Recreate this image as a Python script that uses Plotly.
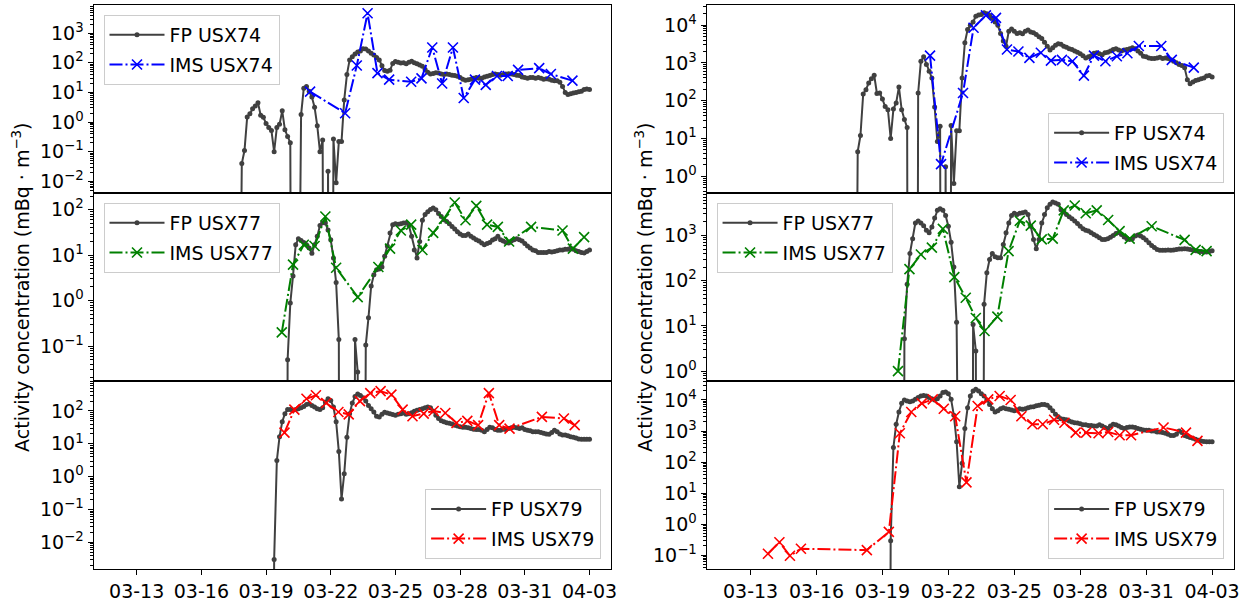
import pandas as pd
import plotly.graph_objects as go

# ---------------- data ----------------
FP_START = "2011-03-17 12:00"   # 3-hourly FLEXPART (FP) output

fp_usx74_left = [
    0, 0, 0, 0.04, 0.11, 1.5, 1.9, 2.8, 3.5, 4.5,
    1.7, 1.45, 0.9, 0.66, 0.52, 0.1, 0.66, 0.85, 2.4, 0.55,
    0.33, 0.2, 0, 0, 0, 1.8, 14, 16, 11, 7,
    3.2, 0.75, 0.1, 0.25, 0, 0.022, 0, 0.27, 0.009, 0.22,
    0.22, 5.6, 40, 125, 160, 200, 230, 250, 300, 290,
    250, 210, 185, 150, 125, 80, 55, 52, 56, 95,
    110, 105, 98, 100, 93, 105, 112, 100, 93, 85,
    76, 60, 48, 42, 44, 46, 45, 42, 40, 42,
    40, 38, 37, 35, 32, 28, 26, 27, 28, 30,
    32, 30, 30, 33, 35, 37, 40, 42, 40, 38,
    40, 42, 43, 42, 40, 38, 37, 33, 32, 30,
    32, 32, 30, 32, 30, 28, 29, 28, 26, 25,
    25, 22, 16, 10, 8.5, 9, 9.5, 10, 10.5, 11,
    12.5, 13, 12.5]

fp_usx74_right = [
    0, 0, 0, 4.5, 12, 150, 195, 295, 380, 470,
    155, 160, 110, 70, 58, 10, 60, 87, 230, 58,
    32, 19.5, 0, 0, 0, 160, 1100, 1450, 910, 600,
    400, 68, 8.3, 21, 0, 1.8, 0, 22, 0.65, 16,
    16, 400, 3400, 7600, 9800, 12000, 17000, 18500, 19000, 21000,
    20000, 18000, 15000, 12000, 9800, 6000, 3800, 2750, 6900, 7900,
    6900, 6000, 6300, 5900, 6900, 7400, 6500, 6300, 5600, 4900,
    4400, 3500, 2750, 2200, 2500, 2900, 3200, 3100, 2750, 2600,
    2350, 2250, 2050, 1900, 1750, 1550, 1350, 1450, 1550, 1800,
    1850, 1750, 1650, 1850, 1900, 2050, 2250, 2350, 2200, 2050,
    2200, 2250, 2350, 2500, 2350, 2050, 1800, 1500, 1450, 1350,
    1300, 1300, 1350, 1400, 1300, 1350, 1300, 1200, 1100, 1000,
    910, 850, 740, 360, 280, 310, 340, 360, 380, 400,
    450, 460, 420]

fp_usx77_left = [
    0, 0, 0, 0, 0, 0, 0, 0, 0, 0,
    0, 0, 0, 0, 0, 0, 0, 0, 0, 0,
    0.05, 0.89, 3.5, 17, 23, 21, 19, 17, 14.5, 11,
    17, 26, 45, 52, 51, 36, 22, 8.7, 2.5, 0.14,
    0, 0, 0, 0, 0, 0.14, 0.027, 0, 0, 0.105,
    0.42, 2.1, 3.7, 4.8, 5.0, 5.5, 9.5, 16, 31, 47,
    49, 48, 49, 51, 52, 45, 26, 13, 8.7, 20,
    59, 79, 91, 102, 110, 100, 83, 71, 60, 55,
    49, 43, 38, 33, 29.5, 27, 27, 29.5, 26, 24,
    22, 20.5, 18.5, 17, 18, 19, 21.5, 23, 26, 22,
    20.5, 19, 18.5, 20.5, 22, 23, 22, 20.5, 18, 16,
    14.5, 13, 12.5, 11.5, 11.5, 11.5, 11.5, 12, 11.7, 12,
    12.5, 13, 13, 13.5, 13.5, 14.5, 13.5, 12.5, 12, 11.5,
    11.2, 12, 13]

fp_usx77_right = [
    0, 0, 0, 0, 0, 0, 0, 0, 0, 0,
    0, 0, 0, 0, 0, 0, 0, 0, 0, 0,
    5.2, 83, 400, 850, 1900, 2100, 1900, 1650, 1300, 1150,
    1550, 2450, 3600, 3900, 3600, 2750, 1600, 710, 200, 12,
    0, 0, 0, 0, 0, 10.7, 2.8, 0, 0, 30,
    150, 295, 400, 340, 320, 320, 630, 1150, 1900, 2750,
    3100, 2900, 3100, 3200, 3300, 2900, 1600, 810, 510, 810,
    1900, 2900, 4100, 4900, 5500, 5200, 4900, 3700, 3300, 2900,
    2600, 2350, 2100, 1850, 1600, 1400, 1300, 1250, 1150, 1050,
    980, 890, 810, 810, 850, 910, 1000, 1100, 1170, 1050,
    930, 850, 810, 850, 980, 1020, 980, 890, 790, 690,
    600, 540, 490, 470, 470, 470, 480, 470, 480, 490,
    500, 500, 510, 500, 490, 480, 460, 450, 440, 430,
    430, 440, 460]

fp_usx79_left = [
    0, 0, 0, 0, 0, 0, 0, 0, 0, 0,
    0, 0, 0, 0, 0, 0.003, 3.1, 16.5, 47, 83,
    110, 110, 105, 110, 117, 126, 138, 158, 166, 148,
    132, 117, 110, 126, 186, 234, 209, 132, 47, 5.8,
    0.21, 1.23, 16, 83, 174, 275, 331, 295, 251, 200,
    148, 117, 93, 69, 66, 79, 91, 87, 83, 78,
    74, 79, 83, 87, 79, 83, 89, 98, 105, 110,
    117, 126, 132, 126, 100, 74, 59, 50, 47, 44,
    42, 40, 37, 35, 33, 32, 32, 31, 29.5, 28,
    27.5, 27.5, 26, 23.5, 27.5, 32, 31, 27.5, 26, 26,
    28, 27.5, 29.5, 31, 32, 31, 29.5, 31, 27.5, 26,
    25, 23.5, 23.5, 23.5, 22, 21, 20, 19.5, 22, 26,
    23.5, 20, 18.5, 18.5, 17.5, 16.5, 16, 15, 14, 13.8,
    13.8, 13.8, 13.8]

fp_usx79_right = [
    0, 0, 0, 0, 0, 0, 0, 0, 0, 0,
    0, 0, 0, 0, 0, 0.29, 295, 1650, 4100, 7800,
    10000, 9300, 8700, 9300, 10500, 12000, 13500, 14000, 13500, 12000,
    11000, 10000, 11000, 13500, 17500, 18000, 16000, 10500, 3200, 450,
    16, 91, 1200, 5600, 13500, 19500, 22000, 19500, 16000, 13500,
    10000, 7200, 5200, 4100, 4500, 5200, 5600, 5200, 5000, 4800,
    4500, 4800, 5200, 5000, 5200, 5600, 5900, 6000, 6500, 6800,
    7200, 7200, 6800, 5600, 4500, 3500, 2900, 2500, 2400, 2300,
    2100, 1950, 1850, 1800, 1700, 1600, 1600, 1500, 1500, 1450,
    1450, 1600, 1450, 1300, 1200, 1450, 1650, 1600, 1450, 1300,
    1200, 1300, 1350, 1350, 1300, 1200, 1150, 1070, 1050, 1050,
    1000, 1000, 930, 930, 890, 850, 780, 720, 720, 780,
    1000, 890, 720, 660, 620, 580, 540, 500, 480, 460,
    450, 450, 450]

ims_usx74_left_t = ["2011-03-21 01:00", "2011-03-22 16:00", "2011-03-23 05:00", "2011-03-23 17:00",
                    "2011-03-24 04:00", "2011-03-24 17:00", "2011-03-25 17:30", "2011-03-26 05:00",
                    "2011-03-26 17:00", "2011-03-27 04:00", "2011-03-27 16:00", "2011-03-28 04:00",
                    "2011-03-28 16:30", "2011-03-29 04:30", "2011-03-29 17:00", "2011-03-30 05:00",
                    "2011-03-30 16:30", "2011-03-31 16:00", "2011-04-01 05:00", "2011-04-02 05:00"]
ims_usx74_left_v = [10.7, 2.0, 81, 4700, 45, 27, 23, 30, 330, 20, 330, 6.5, 27, 18, 36, 36, 58, 66, 42, 25]

ims_usx74_right_t = ["2011-03-21 04:00", "2011-03-21 16:00", "2011-03-22 16:00", "2011-03-23 03:30",
                     "2011-03-23 17:00", "2011-03-24 04:00", "2011-03-24 16:00", "2011-03-25 04:30",
                     "2011-03-25 16:30", "2011-03-26 05:00", "2011-03-26 16:00", "2011-03-27 04:00",
                     "2011-03-27 15:30", "2011-03-28 04:00", "2011-03-28 15:00", "2011-03-29 03:30",
                     "2011-03-29 16:00", "2011-03-30 03:30", "2011-03-30 16:00", "2011-03-31 16:30",
                     "2011-04-01 04:00", "2011-04-02 04:00"]
ims_usx74_right_v = [1550, 2.1, 160, 8500, 18000, 15500, 2250, 2000, 1350, 1850, 1150, 1200,
                     1100, 460, 1550, 1100, 1500, 1800, 2800, 2800, 1200, 750]

ims_usx77_left_t = ["2011-03-19 17:30", "2011-03-20 06:00", "2011-03-20 18:00", "2011-03-21 06:00",
                    "2011-03-21 18:00", "2011-03-22 06:00", "2011-03-23 06:00", "2011-03-24 05:00",
                    "2011-03-24 18:00", "2011-03-25 06:00", "2011-03-25 17:30", "2011-03-26 06:00",
                    "2011-03-26 18:00", "2011-03-27 06:00", "2011-03-27 18:00", "2011-03-28 06:00",
                    "2011-03-28 18:00", "2011-03-29 06:00", "2011-03-29 18:00", "2011-03-30 06:30",
                    "2011-03-31 07:00", "2011-04-01 18:00", "2011-04-02 05:30", "2011-04-02 18:00"]
ims_usx77_left_v = [0.2, 6.2, 17, 16, 71, 5.3, 1.2, 5.5, 14, 35, 47, 13, 31, 63, 145, 59, 122,
                    47, 42, 20, 42, 35, 14, 25]

ims_usx77_right_t = ["2011-03-19 17:00", "2011-03-20 05:30", "2011-03-20 18:00", "2011-03-21 06:00",
                     "2011-03-21 18:00", "2011-03-22 06:30", "2011-03-22 19:00", "2011-03-23 06:00",
                     "2011-03-23 15:30", "2011-03-24 05:30", "2011-03-24 17:45", "2011-03-25 06:00",
                     "2011-03-25 18:00", "2011-03-26 06:00", "2011-03-26 18:00", "2011-03-27 06:00",
                     "2011-03-27 18:00", "2011-03-28 06:00", "2011-03-28 18:00", "2011-03-29 06:30",
                     "2011-03-29 19:00", "2011-03-30 06:00", "2011-03-31 06:00", "2011-04-01 18:00",
                     "2011-04-02 06:00", "2011-04-02 18:00"]
ims_usx77_right_v = [1.0, 180, 380, 540, 1400, 120, 42, 15, 7.7, 16, 450, 2100, 1650, 820, 850,
                     3600, 4600, 3100, 3600, 2200, 1250, 850, 1600, 800, 480, 450]

ims_usx79_left_t = ["2011-03-19 20:30", "2011-03-20 07:30", "2011-03-20 21:00", "2011-03-21 07:30",
                    "2011-03-21 19:00", "2011-03-22 08:30", "2011-03-22 20:00", "2011-03-23 08:30",
                    "2011-03-23 20:00", "2011-03-24 07:30", "2011-03-24 19:30", "2011-03-25 08:00",
                    "2011-03-25 19:00", "2011-03-26 07:30", "2011-03-26 18:30", "2011-03-27 07:30",
                    "2011-03-27 20:00", "2011-03-28 08:00", "2011-03-28 20:00", "2011-03-29 08:00",
                    "2011-03-29 19:30", "2011-03-30 07:00", "2011-03-31 19:00", "2011-04-01 19:30",
                    "2011-04-02 07:30"]
ims_usx79_left_v = [22, 110, 235, 300, 175, 93, 79, 200, 350, 400, 315, 110, 69, 83, 100, 87,
                    43, 50, 37, 350, 37, 29, 66, 59, 37]

ims_usx79_right_t = ["2011-03-13 19:00", "2011-03-14 07:30", "2011-03-14 19:00", "2011-03-15 07:00",
                     "2011-03-18 07:00", "2011-03-19 07:00", "2011-03-19 19:00", "2011-03-20 07:30",
                     "2011-03-20 19:00", "2011-03-21 07:00", "2011-03-21 19:00", "2011-03-22 07:30",
                     "2011-03-22 19:45", "2011-03-23 08:00", "2011-03-23 19:30", "2011-03-24 08:00",
                     "2011-03-24 20:00", "2011-03-25 07:45", "2011-03-25 19:45", "2011-03-26 07:00",
                     "2011-03-26 19:30", "2011-03-27 06:45", "2011-03-27 19:00", "2011-03-28 06:30",
                     "2011-03-28 20:00", "2011-03-29 06:30", "2011-03-29 19:00", "2011-03-30 07:30",
                     "2011-03-31 19:00", "2011-04-01 19:30", "2011-04-02 08:00"]
ims_usx79_right_v = [0.11, 0.26, 0.095, 0.16, 0.145, 0.56, 850, 4100, 7800, 10500, 5200, 3000,
                     22, 6400, 10500, 13500, 10000, 3000, 1650, 1650, 2300, 1850, 890, 890,
                     850, 930, 730, 730, 1300, 890, 480]

x_tick_dates = ["2011-03-13", "2011-03-16", "2011-03-19", "2011-03-22",
                "2011-03-25", "2011-03-28", "2011-03-31", "2011-04-03"]
x_tick_labels = ["03-13", "03-16", "03-19", "03-22", "03-25", "03-28", "03-31", "04-03"]
stations = ["USX74", "USX77", "USX79"]
ims_colors = ["#0000ff", "#008000", "#ff0000"]
y_title = "Activity concentration (mBq · m<sup>−3</sup>)"

# ---------------- layout helpers ----------------
W, H = 1255, 603
FONT = "DejaVu Sans"
FS = 19
FP_COLOR = "#404040"
FLOOR = 1e-30            # zero values drop off the bottom of the log axis

col_px = [(94, 614), (710, 1240)]
row_px = [(5, 193.3), (193.3, 381.7), (381.7, 570)]
y_ranges = {(0, 0): (-2.39, 3.95), (1, 0): (-1.77, 2.37), (2, 0): (-2.81, 2.91),
            (0, 1): (-0.44, 4.53), (1, 1): (-0.22, 3.94), (2, 1): (-1.45, 4.61)}
legend_pos = {(0, 0): "tl", (1, 0): "tl", (2, 0): "br",
              (0, 1): "br", (1, 1): "tl", (2, 1): "br"}

fp_data = {(0, 0): fp_usx74_left, (0, 1): fp_usx74_right,
           (1, 0): fp_usx77_left, (1, 1): fp_usx77_right,
           (2, 0): fp_usx79_left, (2, 1): fp_usx79_right}
ims_data = {(0, 0): (ims_usx74_left_t, ims_usx74_left_v), (0, 1): (ims_usx74_right_t, ims_usx74_right_v),
            (1, 0): (ims_usx77_left_t, ims_usx77_left_v), (1, 1): (ims_usx77_right_t, ims_usx77_right_v),
            (2, 0): (ims_usx79_left_t, ims_usx79_left_v), (2, 1): (ims_usx79_right_t, ims_usx79_right_v)}


def sup(e):
    return "10<sup>" + (("−" + str(-e)) if e < 0 else str(e)) + "</sup>"


fig = go.Figure()
layout = {}
k = 0
for c in range(2):
    for r in range(3):
        k += 1
        xs = "" if k == 1 else str(k)
        xname, yname = "x" + xs, "y" + xs
        lname = "legend" + xs
        fp_vals = fp_data[(r, c)]
        fp_t = pd.date_range(FP_START, periods=len(fp_vals), freq="3h")
        fp_plot = [v if v > 0 else FLOOR for v in fp_vals]
        fig.add_trace(go.Scatter(
            x=fp_t, y=fp_plot, mode="lines+markers", name="FP " + stations[r],
            line=dict(color=FP_COLOR, width=2),
            marker=dict(color=FP_COLOR, size=5, symbol="circle"),
            xaxis=xname, yaxis=yname, legend=lname, legendgroup=f"fp{k}"))
        it, iv = ims_data[(r, c)]
        col = ims_colors[r]
        fig.add_trace(go.Scatter(
            x=pd.to_datetime(it), y=iv, mode="lines+markers", name="IMS " + stations[r],
            line=dict(color=col, width=2, dash="13px,3px,2px,3px"),
            marker=dict(color=col, size=10, symbol="x-thin", line=dict(color=col, width=1.6)),
            xaxis=xname, yaxis=yname, legend=lname, legendgroup=f"ims{k}"))

        x0, x1 = col_px[c]
        yt, yb = row_px[r]
        lo, hi = y_ranges[(r, c)]
        decades = list(range(int(-(-lo // 1)), int(hi // 1) + 1))
        minor_vals = [m * 10.0 ** e for e in range(int(lo // 1), int(hi // 1) + 1) for m in range(2, 10)]
        layout["xaxis" + xs] = dict(
            domain=[x0 / W, x1 / W], anchor=yname, type="date",
            range=["2011-03-11 00:00", "2011-04-04 00:00"],
            tickmode="array", tickvals=x_tick_dates, ticktext=x_tick_labels,
            showticklabels=(r == 2), ticks="outside" if r == 2 else "",
            ticklen=5, tickwidth=1.1, tickcolor="black",
            showline=True, linecolor="black", linewidth=1.1, mirror=True,
            showgrid=False, zeroline=False,
            tickfont=dict(family=FONT, size=FS, color="black"))
        layout["yaxis" + xs] = dict(
            domain=[1 - yb / H, 1 - yt / H], anchor=xname, type="log",
            range=[lo, hi],
            tickmode="array", tickvals=[10.0 ** e for e in decades], ticktext=[sup(e) for e in decades],
            ticks="outside", ticklen=5, tickwidth=1.1, tickcolor="black",
            minor=dict(tickmode="array", tickvals=minor_vals, ticks="outside", ticklen=3,
                       tickwidth=0.8, tickcolor="black", showgrid=False),
            showline=True, linecolor="black", linewidth=1.1, mirror=True,
            showgrid=False, zeroline=False,
            tickfont=dict(family=FONT, size=FS, color="black"))
        pos = legend_pos[(r, c)]
        if pos == "tl":
            lx, ly, xa, ya = (x0 + 10) / W, 1 - (yt + 10) / H, "left", "top"
        else:
            lx, ly, xa, ya = (x1 - 10) / W, 1 - (yb - 10) / H, "right", "bottom"
        layout[lname] = dict(
            x=lx, y=ly, xanchor=xa, yanchor=ya, xref="paper", yref="paper",
            bgcolor="rgba(255,255,255,0.8)", bordercolor="#cccccc", borderwidth=1,
            font=dict(family=FONT, size=FS, color="black"), tracegroupgap=2,
            itemwidth=55)

annotations = []
for xc in (21, 647):
    annotations.append(dict(
        x=xc / W, y=1 - 287.5 / H, xref="paper", yref="paper", text=y_title,
        showarrow=False, textangle=-90, xanchor="center", yanchor="middle",
        font=dict(family=FONT, size=FS, color="black")))

fig.update_layout(
    width=W, height=H, margin=dict(l=0, r=0, t=0, b=0),
    paper_bgcolor="white", plot_bgcolor="white",
    font=dict(family=FONT, size=FS, color="black"),
    annotations=annotations, **layout)

fig.write_html("out.html")
